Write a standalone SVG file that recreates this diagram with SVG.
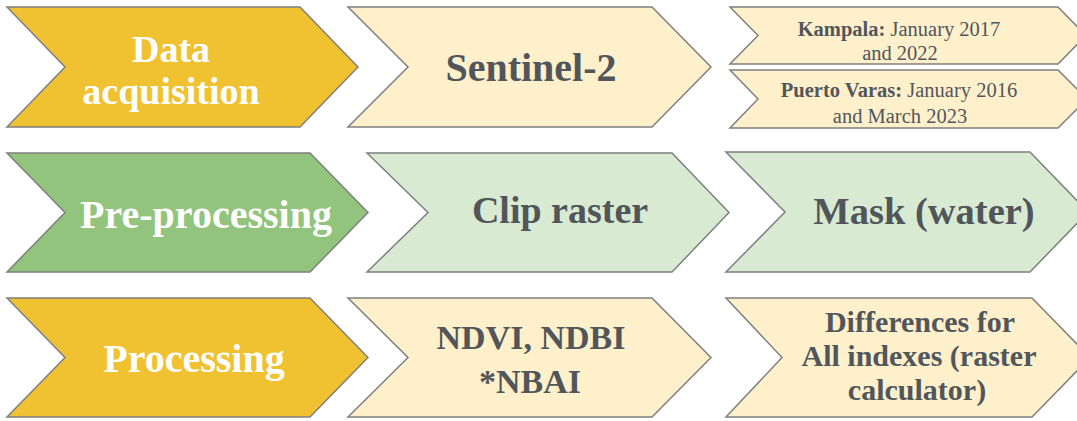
<svg xmlns="http://www.w3.org/2000/svg" width="1077" height="421" viewBox="0 0 1077 421">
  <style>
    .chev { stroke: #7f7f7f; stroke-width: 1.5; stroke-linejoin: miter; }
    .gold { fill: #f0c232; }
    .cream { fill: #fff0cc; }
    .green { fill: #93c47d; }
    .mint { fill: #d9ead3; }
    text { font-family: "Liberation Serif", "Times New Roman", serif; font-weight: bold; text-anchor: middle; }
    .w { fill: #ffffff; }
    .d { fill: #51565b; }
    .reg { font-weight: normal; }
  </style>
  <rect width="1077" height="421" fill="#ffffff"/>
  <g id="connectors"/>
  <g id="data-acquisition">
    <polygon class="chev gold" points="7,7 300,7 358,67 300,127 7,127 65,67"/>
    <text class="w" x="171" y="62" font-size="38">Data</text>
    <text class="w" x="171" y="104" font-size="38">acquisition</text>
  </g>
  <g id="sentinel-2">
    <polygon class="chev cream" points="348,7 652,7 711,67 652,127 348,127 408,67"/>
    <text class="d" x="531" y="81" font-size="40">Sentinel-2</text>
  </g>
  <g id="kampala">
    <polygon class="chev cream" points="730,7 1058,7 1086,35.5 1058,64 730,64 758,35.5"/>
    <text class="d" x="899" y="36" font-size="20.5">Kampala:<tspan class="reg"> January 2017</tspan></text>
    <text class="d reg" x="900" y="60" font-size="20.5">and 2022</text>
  </g>
  <g id="puerto-varas">
    <polygon class="chev cream" points="730,70 1058,70 1087,99 1058,128 730,128 758,99"/>
    <text class="d" x="899" y="97" font-size="20.5">Puerto Varas:<tspan class="reg"> January 2016</tspan></text>
    <text class="d reg" x="900" y="123" font-size="20.5">and March 2023</text>
  </g>
  <g id="pre-processing">
    <polygon class="chev green" points="7,153 310,153 368,212.5 310,272 7,272 65,212.5"/>
    <text class="w" x="206" y="228" font-size="40">Pre-processing</text>
  </g>
  <g id="clip-raster">
    <polygon class="chev mint" points="367,153 672,153 729,212.5 672,272 367,272 428,212.5"/>
    <text class="d" x="560" y="223" font-size="38">Clip raster</text>
  </g>
  <g id="mask-water">
    <polygon class="chev mint" points="726,152 1030,152 1088,212 1030,272 726,272 785,212"/>
    <text class="d" x="924" y="224" font-size="38.5">Mask (water)</text>
  </g>
  <g id="processing">
    <polygon class="chev gold" points="7,298 310,298 368,357.5 310,417 7,417 65,357.5"/>
    <text class="w" x="194" y="372" font-size="40">Processing</text>
  </g>
  <g id="indexes">
    <polygon class="chev cream" points="348,298 652,298 711,357.5 652,417 348,417 408,357.5"/>
    <text class="d" x="531" y="349" font-size="34">NDVI, NDBI</text>
    <text class="d" x="530" y="393" font-size="34">*NBAI</text>
  </g>
  <g id="differences">
    <polygon class="chev cream" points="726,298 1032,298 1090,357.5 1032,417 726,417 782,357.5"/>
    <text class="d" x="920" y="332" font-size="30">Differences for</text>
    <text class="d" x="919" y="366" font-size="30">All indexes (raster</text>
    <text class="d" x="917" y="400" font-size="30">calculator)</text>
  </g>
</svg>
